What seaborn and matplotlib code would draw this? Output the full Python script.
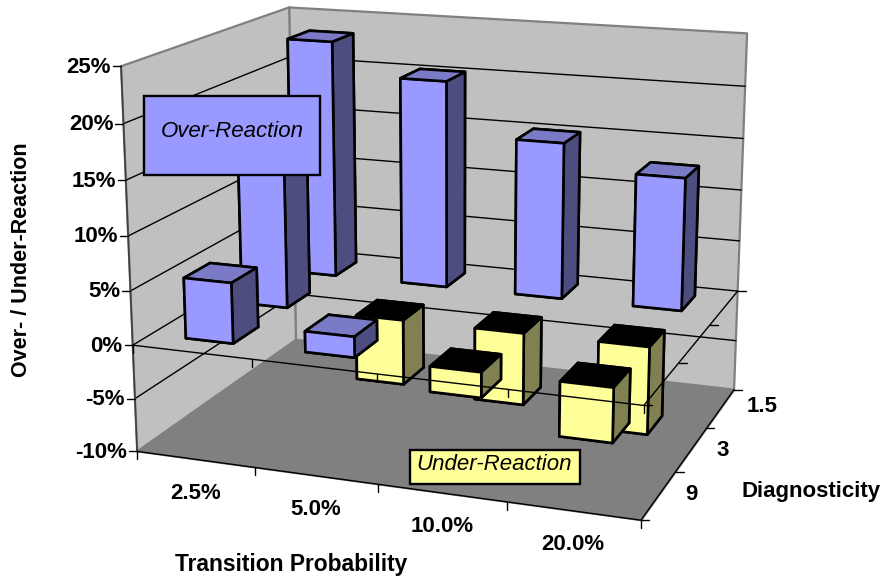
import numpy as np
import matplotlib
matplotlib.use('Agg')
import matplotlib.pyplot as plt
import seaborn as sns
from matplotlib.lines import Line2D
from matplotlib.patches import Rectangle
from mpl_toolkits.mplot3d.art3d import Poly3DCollection

# Data, rows run front to back
transition_labels = ['2.5%', '5.0%', '10.0%', '20.0%']
diagnosticity_labels = ['9', '3', '1.5']
reaction_9 = [5.6, 1.9, -2.3, -4.9]
reaction_3 = [15.0, -6.2, -6.8, -8.2]
reaction_1_5 = [23.3, 20.2, 15.1, 12.7]
z_ticks = [-10, -5, 0, 5, 10, 15, 20, 25]

W, H = 885, 578
sns.set_theme(style='white')
plt.rcParams['font.family'] = ['Liberation Sans', 'DejaVu Sans']

fig = plt.figure(figsize=(W / 100, H / 100), dpi=100)
# the 3d axes forces a square box, so make it big enough to cover the figure
ax = fig.add_axes([0, (H - W) / 2 / H, 1, W / H], projection='3d', computed_zorder=False)
ax.set_axis_off()
ax.apply_aspect()

# Camera calibration: box corners -> pixel position in the figure
box_pts = np.array([[0, 0, -10], [0, 0, 25], [0, 3, -10], [0, 3, 25], [4, 3, 25], [4, 3, -10],
                    [4, 0, -10], [0, 0, 0], [4, 0, 0], [4, 3, 0]], dtype=float)
box_px = np.array([[136.7, 451.7], [120.7, 66.7], [296.0, 340.0], [289.3, 7.3], [747.3, 33.3],
                   [734.0, 390.0], [641.7, 519.7], [133.3, 344.3], [643.3, 406.0], [737.3, 290.7]])

rows = []
for (X, Y, Z), (u, v) in zip(box_pts, box_px / 100):
    rows.append([X, Y, Z, 1, 0, 0, 0, 0, -u * X, -u * Y, -u * Z, -u])
    rows.append([0, 0, 0, 0, X, Y, Z, 1, -v * X, -v * Y, -v * Z, -v])
P = np.linalg.svd(np.array(rows))[2][-1].reshape(3, 4)
if P[2] @ [2, 1.5, 0, 1] < 0:
    P = -P


def to_px(x, y, z):
    p = P @ [x, y, z, 1]
    return p[0] / p[2] * 100, p[1] / p[2] * 100


# pixel -> 2d view coordinates of the axes, then the 4x4 matrix mplot3d wants
inv = ax.transData.inverted()
x0, y0 = inv.transform((0, H))
x1, y1 = inv.transform((100, H - 100))
M = np.array([(x1 - x0) * P[0] + x0 * P[2],
              (y1 - y0) * P[1] + y0 * P[2],
              [0, 0, 0, -1],
              P[2]])
ax.get_proj = lambda: M
ax.set_xlim(0, 4)
ax.set_ylim(0, 3)
ax.set_zlim(-10, 25)

# Walls and floor
wall_col = '#C0C0C0'
edge_col = '#808080'
left_wall = [(0, 0, -10), (0, 3, -10), (0, 3, 25), (0, 0, 25)]
back_wall = [(0, 3, -10), (4, 3, -10), (4, 3, 25), (0, 3, 25)]
floor = [(0, 0, -10), (4, 0, -10), (4, 3, -10), (0, 3, -10)]
ax.add_collection3d(Poly3DCollection([left_wall, back_wall], facecolor=wall_col, edgecolor=edge_col,
                                     linewidth=1.6, zorder=1))
ax.add_collection3d(Poly3DCollection([floor], facecolor=edge_col, edgecolor=edge_col, linewidth=1, zorder=1.5))

# Gridlines on the two walls
for z in z_ticks[1:-1]:
    ax.plot([0, 0, 4], [0, 3, 3], [z, z, z], color='black', lw=1.0, zorder=2)
ax.plot([0, 0], [0, 0], [-10, 25], color='#404040', lw=1.2, zorder=2)
ax.plot([0, 4, 4], [0, 0, 3], [-10, -10, -10], color='black', lw=1.0, zorder=2)

# Bars
bar_w = 0.40
bar_d = 0.45
y_shift = 0.02
purple = ['#4D4D80', '#7A7AC6', '#9999FF', '#4D4D80', '#4D4D80', '#4D4D80']
yellow = ['#808050', '#000000', '#FFFF99', '#808050', '#808050', '#808050']
all_rows = [reaction_9, reaction_3, reaction_1_5]
zo = 3
for j in range(2, -1, -1):
    for i, val in enumerate(all_rows[j]):
        ax.bar3d(i + 0.5 - bar_w / 2, j + 0.5 + y_shift - bar_d / 2, min(val, 0), bar_w, bar_d, abs(val),
                 color=purple if val > 0 else yellow, shade=False, edgecolor='black', linewidth=1.9, zorder=zo)
        zo += 1

# The zero plane outline sits in front of the bars
ax.plot([0, 4, 4], [0, 0, 3], [0, 0, 0], color='black', lw=1.0, zorder=50)


def seg(p, q, lw=1.0):
    fig.add_artist(Line2D([p[0] / W, q[0] / W], [1 - p[1] / H, 1 - q[1] / H], color='black', lw=lw,
                          transform=fig.transFigure))


def label(px, py, s, **kw):
    kw.setdefault('fontsize', 16)
    kw.setdefault('fontweight', 'bold')
    kw.setdefault('color', 'black')
    kw.setdefault('va', 'center')
    kw.setdefault('ha', 'center')
    return fig.text(px / W, 1 - py / H, s, **kw)


# Value axis
for z in z_ticks:
    px, py = to_px(0, 0, z)
    seg((px - 8, py), (px, py))
    label(px - 10, py + 1, f'{z}%', ha='right')

# Category ticks on the floor and the zero plane
for i in range(5):
    for z in (-10, 0):
        px, py = to_px(i, 0, z)
        seg((px, py), (px, py + 8))
for j in range(4):
    for z in (-10, 0):
        px, py = to_px(4, j, z)
        seg((px, py), (px + 8, py))

# Category labels
for i, s in enumerate(transition_labels):
    px, py = to_px(i + 0.5, 0, -10)
    label(px, py + 34, s)
diag_pos = [(691, 494), (723, 450), (762, 407)]
for (px, py), s in zip(diag_pos, diagnosticity_labels):
    label(px, py, s)

label(22, 259.5, 'Over- / Under-Reaction', rotation=90, fontsize=15.5)
label(291, 564, 'Transition Probability', fontsize=16.4)
label(811, 491, 'Diagnosticity')

# Text boxes
fig.add_artist(Rectangle((144 / W, 1 - 175 / H), 176 / W, 79 / H, facecolor='#9999FF', edgecolor='black', lw=1.7,
                         transform=fig.transFigure, zorder=5))
label(232, 132, 'Over-Reaction', fontsize=16, fontweight='normal', style='italic', zorder=6)
fig.add_artist(Rectangle((410 / W, 1 - 484 / H), 170 / W, 34 / H, facecolor='#FFFF99', edgecolor='black', lw=1.7,
                         transform=fig.transFigure, zorder=5))
label(494, 465, 'Under-Reaction', fontsize=16, fontweight='normal', style='italic', zorder=6)

fig.savefig('out.png', dpi=100)
